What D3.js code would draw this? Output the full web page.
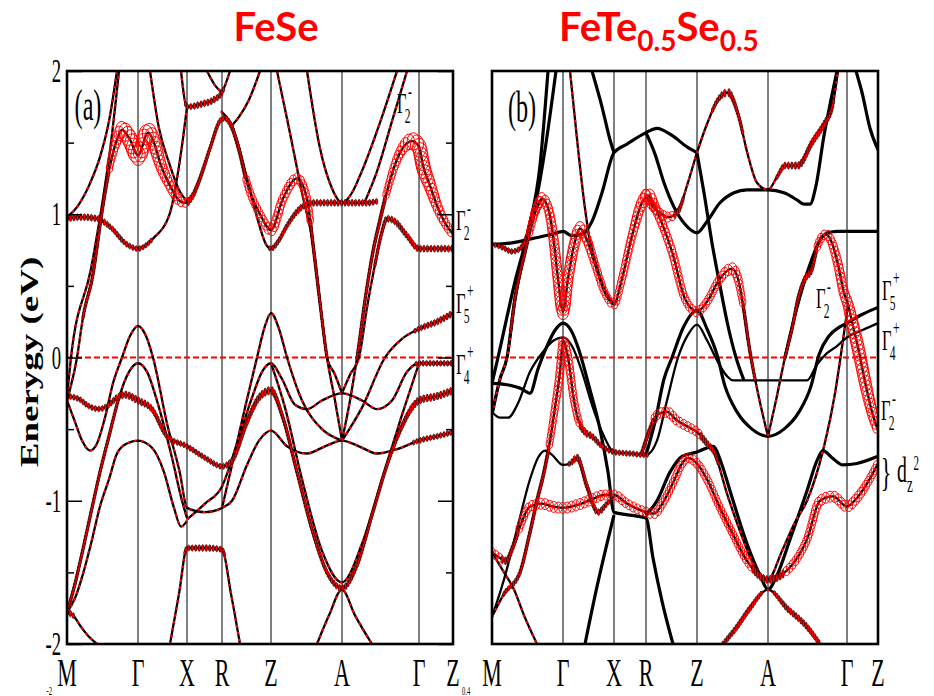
<!DOCTYPE html>
<html><head><meta charset="utf-8">
<script src="https://cdn.jsdelivr.net/npm/d3@7"></script>
<style>body{margin:0;background:#fff}svg{display:block}</style>
</head><body><svg id="c" width="934" height="696"></svg>
<script>
// ---------- DATA ----------
const kLabels = ["M","Γ","X","R","Z","A","Γ","Z"];
const kTicksA = [0,71,120,155,204,275,352,386];
const kTicksB = [0,71,122,154,205,276,355,386];
const eTicksMajor = [2,1,0,-1,-2];
const eTicksMinor = [1.5,0.5,-0.5,-1.5];
const titleA = "FeSe";
const titleB = ["FeTe","0.5","Se","0.5"];
const yLabel = "Enerygy (eV)";

// FeSe bands: [k, E(eV), weight]
const feseFatA = [[0,-0.30,0.15],[10,0.0,0.15],[16,0.28,0.25],[26,0.58,0.3],[35,1.02,0.35],[43,1.34,0.45],[49,1.50,0.6],[55,1.59,0.85],[63,1.52,1.0],[71,1.41,1.0],[81,1.57,1.0],[87,1.50,0.9],[93,1.36,0.75],[103,1.20,0.6],[113,1.09,0.5],[118,1.08,0.45],[125,1.12,0.4],[133,1.25,0.35],[143,1.46,0.3],[154,1.66,0.3],[158,1.67,0.3],[164,1.62,0.35],[172,1.45,0.4],[180,1.22,0.45],[193,1.0,0.5],[204,0.89,0.6],[216,1.11,0.55],[230,1.25,0.55],[240,1.11,0.5],[246,0.79,0.4],[253,0.38,0.3],[260,0.0,0.25],[268,-0.3,0.2],[275,-0.58,0.15]];
const feseFatB = [[275,-0.58,0.15],[283,-0.3,0.2],[290,0.0,0.25],[298,0.4,0.3],[306,0.74,0.35],[313,0.96,0.4],[320,1.16,0.45],[333,1.43,0.6],[345,1.51,0.85],[352,1.47,0.95],[356,1.34,0.95],[363,1.2,0.8],[370,1.06,0.65],[378,0.94,0.55],[386,0.86,0.5]];
const feseFlat1 = [[0,0.97,0.35],[15,0.98,0.35],[30,0.97,0.35],[45,0.9,0.3],[58,0.8,0.3],[71,0.76,0.3],[86,0.83,0.25],[103,1.01,0.15],[110,1.25,0.1],[116,1.53,0.1],[120,1.75,0.1]];
const feseXR = [[114,2.0,0.1],[120,1.75,0.3],[135,1.77,0.35],[147,1.80,0.35],[155,1.85,0.3],[163,2.0,0.1]];
const feseTopX = [[83,2.0,0.1],[92,1.6,0.1],[102,1.36,0.1],[112,1.17,0.1],[120,1.09,0.1]];
const feseMup = [[0,0.98,0.1],[10,1.05,0.1],[22,1.2,0.1],[33,1.4,0.1],[42,1.65,0.1],[50,2.0,0.1]];
const feseS1 = [[0,-0.27,0.1],[4,0.0,0.1],[24,0.62,0.1],[34,1.02,0.1],[44,1.5,0.1],[52,2.0,0.1]];
const feseRdown = [[154,1.72,0.1],[166,1.6,0.1],[180,1.25,0.1],[192,0.93,0.1],[199,0.79,0.15],[204,0.76,0.3],[212,0.82,0.3],[220,0.92,0.3],[233,1.04,0.35],[246,1.08,0.35],[275,1.08,0.35],[300,1.08,0.35],[310,1.09,0.3]];
const feseApar = [[240,2.0,0.1],[253,1.46,0.1],[265,1.18,0.1],[275,1.08,0.1],[285,1.15,0.1],[293,1.27,0.1],[313,1.64,0.1],[330,2.0,0.1]];
const feseSteepZ = [[210,2.0,0.1],[222,1.6,0.1],[235,1.15,0.1],[246,0.79,0.1],[256,0.21,0.1],[260,0.0,0.1],[268,-0.12,0.1],[275,-0.25,0.1]];
const feseBump = [[275,-0.25,0.1],[283,-0.12,0.1],[292,0.0,0.15],[300,0.35,0.2],[308,0.65,0.25],[314,0.85,0.3],[320,0.97,0.35],[328,0.95,0.35],[340,0.85,0.35],[352,0.76,0.35],[370,0.76,0.35],[386,0.76,0.35]];
const feseG2 = [[298,1.09,0.1],[310,1.3,0.1],[325,1.65,0.1],[340,2.0,0.1]];
const feseZcone = [[155,-1.05,0.1],[165,-0.75,0.1],[178,-0.35,0.1],[190,0.0,0.1],[198,0.22,0.1],[204,0.31,0.1],[212,0.2,0.1],[220,0.0,0.1],[235,-0.3,0.1],[255,-0.5,0.1],[275,-0.58,0.1]];
const feseCone = [[0,-0.30,0.1],[8,-0.45,0.1],[15,-0.58,0.1],[23,-0.65,0.1],[30,-0.60,0.1],[38,-0.42,0.1],[46,-0.18,0.1],[55,0.0,0.1],[63,0.15,0.1],[71,0.22,0.1],[79,0.15,0.1],[86,0.0,0.1],[100,-0.46,0.1],[113,-0.81,0.1],[120,-1.05,0.1],[138,-1.08,0.1],[155,-1.05,0.1],[165,-1.0,0.1],[180,-0.75,0.1],[192,-0.58,0.1],[204,-0.51,0.1],[220,-0.62,0.1],[240,-0.67,0.1],[258,-0.62,0.1],[275,-0.58,0.1],[292,-0.62,0.1],[310,-0.67,0.1],[330,-0.64,0.1],[352,-0.58,0.3],[370,-0.55,0.3],[386,-0.52,0.3]];
const feseG004 = [[0,-1.78,0.3],[8,-1.58,0.3],[14,-1.4,0.3],[25,-1.05,0.3],[33,-0.8,0.3],[42,-0.55,0.3],[52,-0.28,0.25],[62,-0.1,0.1],[71,-0.04,0.1],[80,-0.1,0.1],[92,-0.35,0.1],[105,-0.7,0.1],[115,-1.0,0.1],[120,-1.12,0.1]];
const feseG058 = [[0,-1.78,0.1],[8,-1.68,0.1],[16,-1.51,0.1],[24,-1.3,0.1],[33,-1.04,0.1],[42,-0.85,0.1],[50,-0.67,0.1],[60,-0.60,0.1],[71,-0.58,0.1],[85,-0.63,0.1],[97,-0.8,0.1],[107,-1.05,0.1],[114,-1.18,0.1],[120,-1.14,0.1]];
const feseFatP = [[0,-0.27,0.3],[12,-0.29,0.3],[22,-0.34,0.3],[32,-0.36,0.3],[42,-0.33,0.3],[50,-0.28,0.35],[58,-0.26,0.4],[71,-0.30,0.4],[85,-0.36,0.35],[100,-0.55,0.3],[120,-0.62,0.3],[138,-0.70,0.3],[155,-0.76,0.3],[165,-0.72,0.35],[180,-0.45,0.4],[192,-0.28,0.4],[204,-0.23,0.45],[215,-0.4,0.35],[230,-0.8,0.3],[245,-1.2,0.3],[260,-1.5,0.3],[275,-1.61,0.35],[290,-1.45,0.3],[305,-1.1,0.3],[320,-0.75,0.3],[335,-0.48,0.35],[345,-0.35,0.4],[352,-0.30,0.4],[370,-0.27,0.4],[386,-0.23,0.4]];
const feseMshape = [[120,-1.13,0.1],[138,-1.02,0.1],[155,-0.9,0.1],[170,-0.6,0.1],[185,-0.28,0.1],[195,-0.1,0.1],[204,-0.04,0.1],[215,-0.15,0.1],[228,-0.33,0.1],[240,-0.36,0.1],[255,-0.3,0.1],[275,-0.25,0.1],[295,-0.3,0.1],[310,-0.36,0.1],[325,-0.3,0.1],[340,-0.1,0.1],[352,-0.04,0.3],[370,-0.04,0.3],[386,-0.04,0.3]];
const feseParab2 = [[204,-0.04,0.1],[218,-0.35,0.1],[235,-0.85,0.1],[255,-1.35,0.1],[275,-1.57,0.1],[295,-1.3,0.1],[315,-0.85,0.1],[335,-0.4,0.1],[352,-0.04,0.1]];
const feseGR = [[275,-0.58,0.1],[295,-0.35,0.1],[318,0.0,0.1],[335,0.13,0.1],[352,0.2,0.3],[370,0.25,0.35],[386,0.31,0.35]];
const feseXRflat = [[103,-2.0,0.1],[112,-1.65,0.1],[120,-1.33,0.3],[138,-1.33,0.35],[155,-1.34,0.3],[164,-1.65,0.1],[173,-2.0,0.1]];
const feseAbottom = [[250,-2.0,0.1],[262,-1.8,0.1],[275,-1.62,0.1],[288,-1.8,0.1],[305,-2.0,0.1]];
const feseMbottom = [[0,-1.78,0.35],[6,-1.8,0.3],[14,-1.88,0.1],[22,-1.95,0.1],[30,-2.0,0.1]];
const feseZtop = [[165,1.62,0.1],[172,1.68,0.1],[182,1.8,0.1],[193,2.0,0.1]];
const feseRtop = [[140,2.0,0.1],[148,1.9,0.1],[155,1.85,0.1]];

// FeTe0.5Se0.5 bands
const fts_flatM = [[0,0.79,0],[20,0.80,0],[40,0.83,0],[60,0.86,0],[71,0.88,0],[80,0.85,0],[90,0.86,0],[100,0.95,0],[110,1.15,0],[122,1.43,0],[135,1.49,0],[154,1.57,0],[165,1.60,0],[180,1.55,0],[195,1.47,0],[205,1.43,0]];
const fts_redM = [[0,0.79,0.25],[10,0.77,0.3],[20,0.74,0.3],[28,0.76,0.3],[35,0.85,0.35],[42,1.0,0.45],[50,1.11,0.6]];
const fts_fat1 = [[0,-0.40,0.1],[8,-0.15,0.15],[15,0.0,0.2],[23,0.41,0.3],[33,0.74,0.4],[43,1.01,0.5],[50,1.11,0.6],[57,1.02,0.6],[62,0.80,0.65],[66,0.55,0.7],[71,0.32,0.8],[76,0.55,0.7],[82,0.78,0.7],[88,0.90,0.7],[95,0.82,0.6],[103,0.65,0.5],[113,0.45,0.45],[122,0.37,0.45],[130,0.55,0.5],[140,0.85,0.55],[150,1.08,0.7],[156,1.13,0.8],[163,1.05,0.6],[172,0.9,0.55],[180,0.74,0.55],[193,0.41,0.5],[205,0.32,0.5],[216,0.40,0.5],[226,0.53,0.5],[240,0.62,0.6],[246,0.55,0.55],[250,0.41,0.45],[258,0.04,0.35],[266,-0.25,0.2],[276,-0.55,0.15]];
const fts_fat2 = [[154,1.13,0.6],[160,1.06,0.5],[166,1.02,0.5],[176,0.98,0.5],[186,1.02,0.4],[195,1.2,0.15],[205,1.43,0.15],[215,1.63,0.2],[226,1.8,0.3],[236,1.85,0.45],[246,1.7,0.3],[256,1.41,0.2],[265,1.22,0.15],[276,1.17,0.15],[285,1.26,0.25],[293,1.34,0.35],[306,1.34,0.4],[320,1.50,0.4],[333,1.64,0.4],[340,1.74,0.3],[346,2.0,0.15]];
const fts_RZmin = [[154,1.57,0],[163,1.42,0],[172,1.22,0],[182,1.05,0],[193,0.93,0],[205,0.87,0],[215,0.95,0],[228,1.08,0],[242,1.15,0],[255,1.17,0],[276,1.17,0],[292,1.15,0],[305,1.1,0],[312,1.07,0],[318,1.07,0],[324,1.2,0],[332,1.55,0],[339,1.8,0],[345,2.0,0]];
const fts_topX = [[100,2.0,0],[110,1.75,0],[118,1.52,0],[122,1.43,0]];
const fts_Zsteep = [[205,1.43,0],[212,1.15,0],[220,0.8,0],[228,0.5,0],[236,0.22,0],[244,0.0,0],[252,-0.16,0]];
const fts_topR = [[364,2.0,0],[370,1.85,0],[378,1.6,0],[386,1.45,0]];
const fts_sA = [[0,-0.18,0],[6,0.0,0],[23,0.53,0],[36,0.88,0],[48,1.34,0],[56,2.0,0]];
const fts_sB = [[0,-0.40,0],[8,-0.15,0],[15,0.0,0],[23,0.41,0],[33,0.74,0],[43,1.05,0],[53,1.45,0],[64,2.0,0]];
const fts_redTop = [[78,2.0,0.1],[86,1.46,0.1],[93,1.04,0.1],[97,0.85,0.1],[103,0.68,0.1],[113,0.47,0.1],[122,0.37,0.1]];
const fts_cA = [[0,-0.18,0],[15,-0.19,0],[30,-0.22,0],[38,-0.25,0],[46,-0.08,0],[55,0.08,0],[63,0.19,0],[71,0.24,0],[79,0.19,0],[87,0.05,0],[97,-0.2,0],[108,-0.5,0],[116,-0.8,0],[122,-1.08,0],[138,-1.10,0],[154,-1.12,0],[161,-1.4,0],[170,-1.7,0],[181,-2.0,0]];
const fts_cB = [[0,-0.38,0],[8,-0.42,0],[16,-0.42,0],[26,-0.32,0],[38,-0.1,0],[50,0.03,0],[62,0.12,0],[71,0.14,0],[80,0.08,0],[90,-0.1,0],[100,-0.33,0],[112,-0.55,0],[122,-0.66,0.3],[138,-0.67,0.3],[154,-0.68,0.3],[165,-0.58,0],[175,-0.3,0],[186,0.0,0],[196,0.16,0],[205,0.23,0],[215,0.12,0],[225,-0.02,0],[235,-0.13,0],[241,-0.16,0],[276,-0.16,0],[315,-0.16,0],[325,-0.05,0],[335,0.03,0],[345,0.08,0],[355,0.14,0],[370,0.19,0],[386,0.24,0]];
const fts_zc = [[154,-0.68,0],[163,-0.45,0],[172,-0.15,0],[180,0.0,0],[192,0.22,0],[205,0.33,0],[215,0.2,0],[225,0.02,0],[233,-0.2,0],[245,-0.38,0],[260,-0.5,0],[276,-0.55,0],[292,-0.5,0],[307,-0.38,0],[319,-0.2,0],[327,0.02,0],[337,0.15,0],[347,0.21,0],[355,0.24,0],[370,0.30,0],[386,0.35,0]];
const fts_redV = [[0,-1.81,0.2],[12,-1.65,0.25],[28,-1.5,0.3],[37,-1.25,0.35],[45,-1.0,0.4],[52,-0.8,0.4],[58,-0.58,0.45],[63,-0.35,0.5],[68,-0.1,0.55],[71,0.12,0.5],[76,0.0,0.55],[82,-0.3,0.5],[87,-0.45,0.45],[93,-0.52,0.4],[100,-0.55,0.35],[110,-0.62,0.3],[122,-0.66,0.3]];
const fts_dB = [[0,-1.81,0],[12,-1.55,0],[25,-1.2,0],[38,-0.85,0],[46,-0.7,0],[53,-0.65,0],[60,-0.68,0],[71,-0.75,0],[78,-0.74,0.3],[85,-0.70,0.4],[95,-0.9,0.4],[106,-1.08,0.35],[115,-1.02,0.3],[122,-0.97,0.2]];
const fts_fatD = [[0,-1.36,0.45],[8,-1.40,0.45],[14,-1.42,0.4],[21,-1.32,0.4],[28,-1.18,0.45],[38,-1.04,0.5],[50,-1.02,0.55],[60,-1.04,0.55],[71,-1.05,0.55],[85,-1.03,0.55],[100,-0.99,0.55],[112,-0.96,0.5],[122,-0.96,0.5],[135,-1.02,0.5],[150,-1.07,0.5],[162,-1.09,0.5],[172,-1.0,0.5],[182,-0.86,0.5],[190,-0.74,0.5],[196,-0.70,0.5],[205,-0.74,0.5],[215,-0.85,0.5],[228,-1.05,0.45],[240,-1.22,0.45],[255,-1.42,0.45],[276,-1.55,0.4],[296,-1.48,0.45],[315,-1.27,0.5],[328,-1.0,0.55],[341,-0.97,0.55],[355,-1.04,0.55],[365,-0.98,0.55],[375,-0.88,0.5],[386,-0.74,0.5]];
const fts_fatE = [[150,-0.66,0.3],[158,-0.5,0.4],[165,-0.40,0.5],[175,-0.38,0.55],[185,-0.44,0.5],[195,-0.48,0.5],[205,-0.52,0.45],[215,-0.6,0.4],[222,-0.66,0.3],[235,-0.95,0.15],[250,-1.25,0.15],[262,-1.45,0.15],[276,-1.55,0.15],[290,-1.35,0.15],[303,-1.15,0.15],[315,-1.0,0.15],[331,-0.65,0.15],[343,-0.25,0.15],[351,0.12,0.2],[356,0.37,0.2]];
const fts_dzB = [[154,-1.10,0],[165,-1.0,0],[178,-0.8,0],[190,-0.69,0],[205,-0.66,0],[221,-0.62,0],[230,-0.75,0],[238,-0.93,0],[255,-1.3,0],[268,-1.52,0],[276,-1.62,0],[285,-1.52,0],[298,-1.27,0],[315,-0.93,0],[325,-0.72,0],[331,-0.65,0],[340,-0.7,0],[351,-0.75,0],[365,-0.74,0],[386,-0.69,0]];
const fts_Abottom = [[231,-2.0,0.3],[245,-1.88,0.35],[258,-1.75,0.35],[276,-1.62,0.2],[295,-1.75,0.35],[315,-1.88,0.35],[328,-2.0,0.3]];
const fts_Xleg = [[93,-2.0,0],[105,-1.6,0],[115,-1.3,0],[122,-1.10,0]];
const fts_Mred = [[0,-1.36,0.1],[12,-1.5,0.1],[22,-1.62,0.1],[32,-1.8,0.1],[45,-2.0,0.1]];
const fts_fatR = [[276,-0.55,0.15],[284,-0.3,0.2],[293,0.0,0.25],[300,0.2,0.3],[306,0.41,0.35],[313,0.55,0.4],[320,0.62,0.4],[326,0.79,0.45],[334,0.86,0.5],[340,0.8,0.55],[346,0.65,0.6],[352,0.45,0.65],[356,0.37,0.7],[360,0.25,0.8],[366,0.07,0.85],[374,-0.2,0.8],[380,-0.38,0.7],[386,-0.51,0.6]];
const fts_blackG = [[293,0.0,0],[305,0.35,0],[318,0.65,0],[328,0.82,0],[336,0.87,0],[345,0.88,0],[355,0.88,0],[386,0.88,0]];

const bandsA = [feseMup,feseS1,feseFlat1,feseXR,feseTopX,feseRdown,feseApar,feseSteepZ,feseBump,feseG2,feseZcone,feseCone,feseG004,feseG058,feseMshape,feseParab2,feseGR,feseXRflat,feseAbottom,feseMbottom,feseZtop,feseRtop,feseFatP,feseFatA,feseFatB];
const bandsB = [fts_flatM,fts_RZmin,fts_topX,fts_Zsteep,fts_topR,fts_sA,fts_sB,fts_cA,fts_cB,fts_zc,fts_dB,fts_dzB,fts_Xleg,fts_blackG,fts_redTop,fts_Mred,fts_redM,fts_fat1,fts_fat2,fts_redV,fts_fatD,fts_fatE,fts_Abottom,fts_fatR];

// ---------- DRAW ----------
const svg = d3.select('#c');
const TOP = 71, BOT = 644;
const yS = d3.scaleLinear().domain([-2,2]).range([BOT,TOP]);
const SERIF = '"Liberation Serif","Times New Roman",serif';
const SX = 0.55;
const RSCALE = 10;

function serif(x, y, str, size, anchor, weight) {
  const g = svg.append('g').attr('transform', `translate(${x},${y}) scale(${SX},1)`);
  g.append('text').attr('text-anchor', anchor || 'middle').attr('font-family', SERIF)
    .attr('font-size', size).attr('font-weight', weight || 'normal').attr('fill', '#000').text(str);
  return g;
}
function gammaLabel(x, y, sub, sup) {
  const g = svg.append('g').attr('transform', `translate(${x},${y}) scale(${SX},1)`);
  g.append('text').attr('font-family', SERIF).attr('font-size', 30).text('Γ');
  g.append('text').attr('font-family', SERIF).attr('font-size', 21).attr('x', 14).attr('y', 10).text(sub);
  g.append('text').attr('font-family', SERIF).attr('font-size', 21).attr('x', 20).attr('y', -15).text(sup);
}

let clipN = 0;
function drawPanel(bands, kt, left, right, ticks) {
  const x = d3.scaleLinear().domain([0, 386]).range([left, right]);
  const id = 'clip' + (clipN++);
  svg.append('clipPath').attr('id', id).append('rect')
    .attr('x', left).attr('y', TOP).attr('width', right - left).attr('height', BOT - TOP);
  const g = svg.append('g');
  g.selectAll('line.hs').data(kt.slice(1, -1)).join('line')
    .attr('x1', d => x(d)).attr('x2', d => x(d)).attr('y1', TOP).attr('y2', BOT)
    .attr('stroke', '#000').attr('stroke-width', 1);
  g.append('line').attr('x1', left).attr('x2', right).attr('y1', yS(0)).attr('y2', yS(0))
    .attr('stroke', '#f00').attr('stroke-width', 2).attr('stroke-dasharray', '6,3');
  const bg = g.append('g').attr('clip-path', `url(#${id})`);
  const line = d3.line().x(d => x(d[0])).y(d => yS(d[1])).curve(d3.curveMonotoneX);
  const big = [], small = [];
  bands.forEach(b => {
    const maxW = d3.max(b, d => d[2]);
    const minW = d3.min(b, d => d[2]);
    const p = bg.append('path').attr('d', line(b)).attr('fill', 'none')
      .attr('stroke', '#000').attr('stroke-width', maxW === 0 ? 3.2 : 2.3);
    if (minW > 0) {
      bg.append('path').attr('d', line(b)).attr('fill', 'none')
        .attr('stroke', '#f00').attr('stroke-width', 2.2).attr('stroke-dasharray', '2.5,4.5');
    }
    if (maxW >= 0.25) {
      const wAt = d3.scaleLinear().domain(b.map(d => d[0])).range(b.map(d => d[2])).clamp(true);
      const node = p.node(), L = node.getTotalLength();
      let last = -99;
      for (let s = 0; s <= L; s += 0.5) {
        const pt = node.getPointAtLength(s);
        const w = wAt(x.invert(pt.x));
        if (w < 0.25) continue;
        const r = RSCALE * w;
        const isSmall = r < 4.4;
        const step = isSmall ? 3.2 : 4.4;
        if (s - last < step) continue;
        last = s;
        (isSmall ? small : big).push({ x: pt.x, y: pt.y, r: r });
      }
    }
  });
  bg.append('g').selectAll('ellipse').data(small).join('ellipse')
    .attr('cx', d => d.x).attr('cy', d => d.y)
    .attr('rx', 1.3).attr('ry', d => d.r)
    .attr('fill', '#f00').attr('stroke', '#000').attr('stroke-width', 0.6);
  bg.append('g').selectAll('ellipse').data(big).join('ellipse')
    .attr('cx', d => d.x).attr('cy', d => d.y)
    .attr('rx', d => d.r * 0.72).attr('ry', d => d.r)
    .attr('fill', 'none').attr('stroke', '#f00').attr('stroke-width', 1.0);

  if (ticks) {
    const mk = (axis, tx, vals, size) => {
      const a = svg.append('g').attr('transform', `translate(${tx},0)`)
        .call(axis(yS).tickValues(vals).tickSize(-size).tickFormat(''));
      a.select('.domain').remove();
      a.selectAll('line').attr('stroke', '#000').attr('stroke-width', 1.5);
    };
    mk(d3.axisLeft, left, eTicksMajor, 15);
    mk(d3.axisLeft, left, eTicksMinor, 7);
    mk(d3.axisRight, right, eTicksMajor, 15);
    mk(d3.axisRight, right, eTicksMinor, 7);
  }
  svg.append('rect').attr('x', left).attr('y', TOP).attr('width', right - left).attr('height', BOT - TOP)
    .attr('fill', 'none').attr('stroke', '#000').attr('stroke-width', 2.6);
  kt.forEach((k, i) => serif(x(k), 686, kLabels[i], 40, 'middle'));
  return x;
}

drawPanel(bandsA, kTicksA, 67, 453, true);
drawPanel(bandsB, kTicksB, 492, 878, false);

// y tick labels
eTicksMajor.forEach(e => serif(61, yS(e) + 11, String(e), 34, 'end'));
// small texts at the very bottom edge (partly hidden in the original)
serif(52, 695, "-2", 12, 'end');
serif(462, 695, "0.4", 12, 'start');

// y axis label
svg.append('g').attr('transform', `translate(38,362) scale(0.7,1) rotate(-90)`)
  .append('text').attr('text-anchor', 'middle').attr('font-family', SERIF).attr('font-weight', 'bold')
  .attr('font-size', 37).attr('fill', '#000').text(yLabel);

// panel letters
serif(88, 120, "(a)", 44, 'middle');
serif(522, 122, "(b)", 44, 'middle');

// titles
svg.append('text').attr('x', 276).attr('y', 41).attr('text-anchor', 'middle')
  .attr('font-family', 'Lato, "Open Sans", sans-serif').attr('font-weight', 700).attr('font-size', 40)
  .attr('fill', '#f00').text(titleA);
const tb = svg.append('text').attr('x', 559).attr('y', 41)
  .attr('font-family', 'Lato, "Open Sans", sans-serif').attr('font-weight', 700).attr('font-size', 40).attr('fill', '#f00');
tb.append('tspan').text(titleB[0]);
tb.append('tspan').attr('font-size', 28).attr('dy', 10).text(titleB[1]);
tb.append('tspan').attr('dy', -10).text(titleB[2]);
tb.append('tspan').attr('font-size', 28).attr('dy', 10).text(titleB[3]);

// symmetry annotations
gammaLabel(397, 113, '2', '-');
gammaLabel(456, 230, '2', '-');
gammaLabel(456, 313, '5', '+');
gammaLabel(456, 374, '4', '+');
gammaLabel(816, 308, '2', '-');
gammaLabel(882, 300, '5', '+');
gammaLabel(882, 350, '4', '+');
gammaLabel(881, 420, '2', '-');
serif(886, 486, "}", 40, 'middle');
const dz = svg.append('g').attr('transform', `translate(897,482) scale(${SX},1)`);
dz.append('text').attr('font-family', SERIF).attr('font-size', 36).text('d');
dz.append('text').attr('font-family', SERIF).attr('font-size', 24).attr('x', 18).attr('y', 10).text('z');
dz.append('text').attr('font-family', SERIF).attr('font-size', 20).attr('x', 30).attr('y', -12).text('2');
</script>
</body></html>
